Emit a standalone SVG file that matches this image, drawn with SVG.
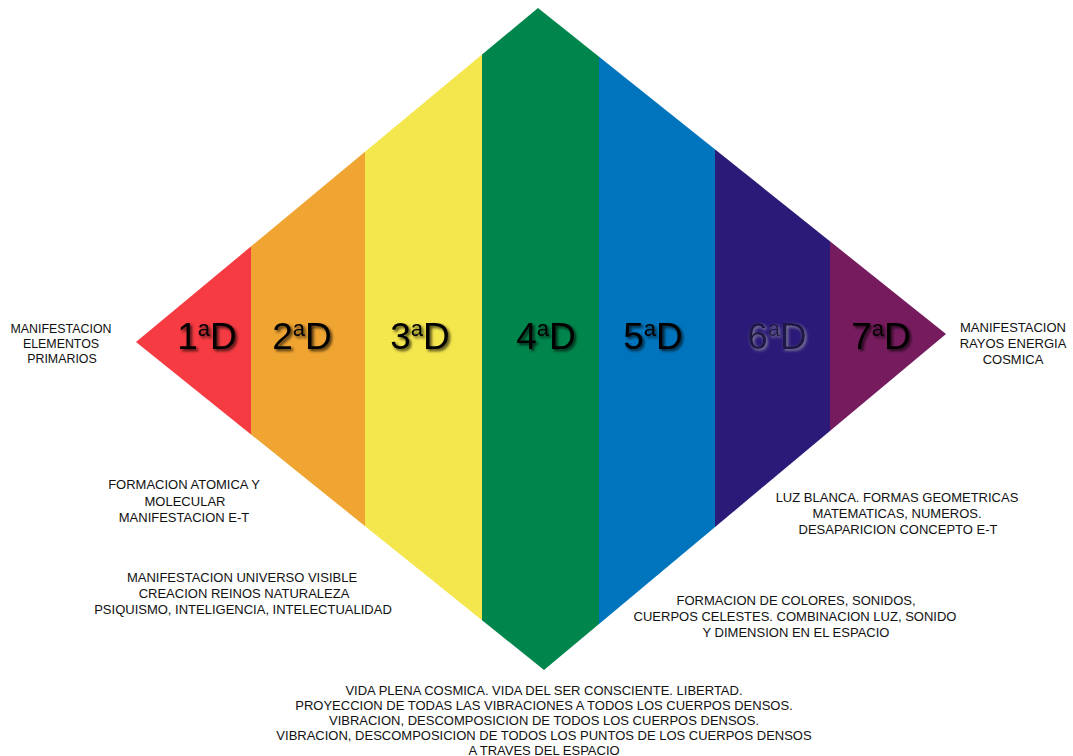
<svg xmlns="http://www.w3.org/2000/svg" width="1073" height="756" viewBox="0 0 1073 756">
<style>
.lbl{font-family:"Liberation Sans",Arial,sans-serif;font-size:37px;fill:#000;text-anchor:middle;filter:url(#sh)}
.sup{font-size:22px}
.txt{font-family:"Liberation Sans",Arial,sans-serif;font-size:13px;fill:#111;text-anchor:middle}
</style>
<defs>
<clipPath id="dia"><polygon points="538,8 946,334 544,670 136,342"/></clipPath>
<filter id="sh" x="-20%" y="-20%" width="140%" height="140%"><feDropShadow dx="2" dy="2" stdDeviation="1.6" flood-color="#000" flood-opacity="0.75"/></filter>
<filter id="sh6" x="-20%" y="-20%" width="140%" height="140%"><feDropShadow dx="1.5" dy="1.5" stdDeviation="1.5" flood-color="#aaa" flood-opacity="0.7"/></filter>
</defs>
<rect width="1073" height="756" fill="#fff"/>
<g id="bands" clip-path="url(#dia)">
<rect id="b1" x="130" y="0" width="121" height="756" fill="#F63B42"/>
<rect id="b2" x="251" y="0" width="114" height="756" fill="#F0A431"/>
<rect id="b3" x="365" y="0" width="117" height="756" fill="#F4E64D"/>
<rect id="b4" x="482" y="0" width="117" height="756" fill="#00854C"/>
<rect id="b5" x="599" y="0" width="116" height="756" fill="#0075BE"/>
<rect id="b6" x="715" y="0" width="115" height="756" fill="#2C1A78"/>
<rect id="b7" x="830" y="0" width="120" height="756" fill="#761C5E"/>
</g>
<g id="labels">
<text class="lbl" x="207" y="349">1<tspan class="sup" dy="-13">a</tspan><tspan dy="13">D</tspan></text>
<text class="lbl" x="302" y="349">2<tspan class="sup" dy="-13">a</tspan><tspan dy="13">D</tspan></text>
<text class="lbl" x="420" y="349">3<tspan class="sup" dy="-13">a</tspan><tspan dy="13">D</tspan></text>
<text class="lbl" x="546" y="349">4<tspan class="sup" dy="-13">a</tspan><tspan dy="13">D</tspan></text>
<text class="lbl" x="653" y="349">5<tspan class="sup" dy="-13">a</tspan><tspan dy="13">D</tspan></text>
<text class="lbl" x="777" y="349" style="filter:url(#sh6);fill:#1c1248">6<tspan class="sup" dy="-13">a</tspan><tspan dy="13">D</tspan></text>
<text class="lbl" x="881" y="349">7<tspan class="sup" dy="-13">a</tspan><tspan dy="13">D</tspan></text>
</g>
<g id="t-left">
<text class="txt" x="61" y="333" style="font-size:12.4px">MANIFESTACION</text>
<text class="txt" x="61" y="348" style="font-size:12.4px">ELEMENTOS</text>
<text class="txt" x="62" y="363" style="font-size:12.4px">PRIMARIOS</text>
</g>
<g id="t-right">
<text class="txt" x="1013" y="332">MANIFESTACION</text>
<text class="txt" x="1013" y="348">RAYOS ENERGIA</text>
<text class="txt" x="1013" y="364">COSMICA</text>
</g>
<g id="t-atomica">
<text class="txt" x="184" y="489">FORMACION ATOMICA Y</text>
<text class="txt" x="185" y="506">MOLECULAR</text>
<text class="txt" x="184" y="522">MANIFESTACION E-T</text>
</g>
<g id="t-universo">
<text class="txt" x="242" y="582">MANIFESTACION UNIVERSO VISIBLE</text>
<text class="txt" x="244" y="598">CREACION REINOS NATURALEZA</text>
<text class="txt" x="243" y="614">PSIQUISMO, INTELIGENCIA, INTELECTUALIDAD</text>
</g>
<g id="t-luz">
<text class="txt" x="897" y="502">LUZ BLANCA. FORMAS GEOMETRICAS</text>
<text class="txt" x="897" y="518">MATEMATICAS, NUMEROS.</text>
<text class="txt" x="898" y="534">DESAPARICION CONCEPTO E-T</text>
</g>
<g id="t-colores">
<text class="txt" x="796" y="605">FORMACION DE COLORES, SONIDOS,</text>
<text class="txt" x="795" y="621">CUERPOS CELESTES. COMBINACION LUZ, SONIDO</text>
<text class="txt" x="796" y="637">Y DIMENSION EN EL ESPACIO</text>
</g>
<g id="t-bottom">
<text class="txt" x="544" y="695">VIDA PLENA COSMICA. VIDA DEL SER CONSCIENTE. LIBERTAD.</text>
<text class="txt" x="544" y="710">PROYECCION DE TODAS LAS VIBRACIONES A TODOS LOS CUERPOS DENSOS.</text>
<text class="txt" x="544" y="725">VIBRACION, DESCOMPOSICION DE TODOS LOS CUERPOS DENSOS.</text>
<text class="txt" x="544" y="740">VIBRACION, DESCOMPOSICION DE TODOS LOS PUNTOS DE LOS CUERPOS DENSOS</text>
<text class="txt" x="544" y="755">A TRAVES DEL ESPACIO</text>
</g>
</svg>
